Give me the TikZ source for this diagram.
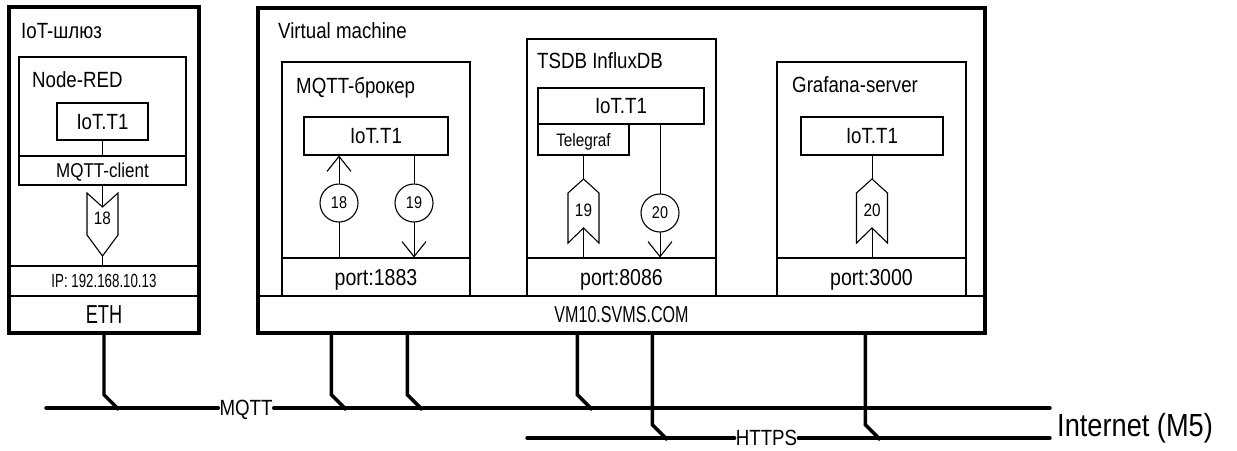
\documentclass[tikz,border=0pt]{standalone}
\usepackage{fontspec}
\setmainfont{Liberation Sans}[FakeStretch=0.85]
\newfontfamily\narrowfont{Liberation Sans}[FakeStretch=0.7]
\usetikzlibrary{arrows.meta, backgrounds}

\newcommand{\fsz}[1]{\fontsize{#1}{#1}\selectfont}

\begin{document}
\begin{tikzpicture}[x=1pt, y=-1pt,
    wire/.style={line width=1.1pt},
    box/.style={draw, line width=1.1pt, inner sep=0pt, text depth=0pt},
    outerbox/.style={draw, line width=3.4pt, inner sep=0pt},
    title/.style={anchor=base west, inner sep=0pt, font=\fsz{22}},
    num/.style={circle, draw, line width=1.1pt, fill=white, minimum size=38pt, inner sep=0pt, text depth=0pt, font=\fsz{17}},
    chev/.style={draw, line width=1.1pt, fill=white, line join=miter},
    chevnum/.style={inner sep=0pt, text depth=0pt, font=\fsz{18}},
    bus/.style={line width=3.4pt, line cap=round},
    drop/.style={line width=3.4pt},
    buslbl/.style={inner xsep=1pt, inner ysep=0pt, text depth=0pt, font=\fsz{22}},
    arr/.style={-{Straight Barb[length=15pt, width=24pt, line width=1.1pt]}}]
    \useasboundingbox (0,0) rectangle (1237,450);

    % IoT gateway
    \node[box, minimum width=167pt, minimum height=128pt] (gwred) at (102.5,121) {};
    \node[box, minimum width=167pt, minimum height=29pt, font=\fsz{20}] (gwclient) at (102.5,170.5) {MQTT-client};
    \node[box, minimum width=91pt, minimum height=37pt, font=\fsz{22}] (gwt1) at (102.5,121.5) {IoT.T1};
    \node[box, minimum width=190pt, minimum height=30pt, font=\narrowfont\fsz{19}] (gwip) at (104,281) {IP: 192.168.10.13};
    \node[box, minimum width=190pt, minimum height=37pt, font=\narrowfont\fsz{26}] (gweth) at (104,314.5) {ETH};
    \node[outerbox, minimum width=190pt, minimum height=326pt] (gw) at (104,170) {};
    \node[title] at (21,38) {IoT-шлюз};
    \node[title] at (32,87) {Node-RED};
    \draw[chev] (87,193) -- ++(15.5,14) -- ++(15.5,-14) -- ++(0,42) -- ++(-15.5,21) -- ++(-15.5,-21) -- cycle;
    \node[chevnum] (ch18) at (102.5,218) {18};

    % virtual machine
    \node[box, minimum width=727pt, minimum height=37pt, font=\narrowfont\fsz{23}] (vmhost) at (621.5,314.5) {VM10.SVMS.COM};
    \node[outerbox, minimum width=727pt, minimum height=325pt] (vm) at (621.5,170.5) {};
    \node[title] at (278,38) {Virtual machine};

    % broker
    \node[box, minimum width=188pt, minimum height=234pt] (broker) at (376,179) {};
    \node[box, minimum width=188pt, minimum height=38pt, font=\fsz{23}] (brokerport) at (376,277) {port:1883};
    \node[box, minimum width=144pt, minimum height=38pt, font=\fsz{22}] (brokert1) at (376,136) {IoT.T1};
    \node[title] at (296,93) {MQTT-брокер};
    \node[num] (n18) at (339,203) {18};
    \node[num] (n19) at (414,203) {19};

    % influxdb
    \node[box, minimum width=189pt, minimum height=257pt] (tsdb) at (621.5,167.5) {};
    \node[box, minimum width=189pt, minimum height=38pt, font=\fsz{23}] (tsdbport) at (621.5,277) {port:8086};
    \node[box, minimum width=166pt, minimum height=36pt, font=\fsz{22}] (tsdbt1) at (621,106) {IoT.T1};
    \node[box, minimum width=91pt, minimum height=31pt, font=\fsz{18}] (telegraf) at (583.5,139.5) {Telegraf};
    \node[title] at (537,68) {TSDB InfluxDB};
    \draw[chev] (583.5,179) -- ++(15.5,14) -- ++(0,50) -- ++(-15.5,-15) -- ++(-15.5,15) -- ++(0,-50) -- cycle;
    \node[chevnum] (ch19) at (583.5,210) {19};
    \node[num] (n20) at (660,213) {20};

    % grafana
    \node[box, minimum width=189pt, minimum height=234pt] (grafana) at (871.5,179) {};
    \node[box, minimum width=189pt, minimum height=38pt, font=\fsz{23}] (grafport) at (871.5,277) {port:3000};
    \node[box, minimum width=142pt, minimum height=38pt, font=\fsz{22}] (graft1) at (872,136) {IoT.T1};
    \node[title] at (792,92) {Grafana-server};
    \draw[chev] (872,179) -- ++(15.5,14) -- ++(0,50) -- ++(-15.5,-15) -- ++(-15.5,15) -- ++(0,-50) -- cycle;
    \node[chevnum] (ch20) at (872,210) {20};

    \begin{scope}[on background layer, wire]
        \draw (gwt1.south) -- (gwclient.north);
        \draw (gwclient.south) -- (gwclient.south |- gwip.north);
        \draw[arr] (n18 |- brokerport.north) -- (n18 |- brokert1.south);
        \draw[arr] (n19 |- brokert1.south) -- (n19 |- brokerport.north);
        \draw (ch19 |- tsdbport.north) -- (ch19 |- telegraf.south);
        \draw[arr] (n20 |- tsdbt1.south) -- (n20 |- tsdbport.north);
        \draw (ch20 |- grafport.north) -- (ch20 |- graft1.south);
    \end{scope}

    % buses
    \coordinate (mqttW) at (46,408);
    \coordinate (mqttE) at (1050,408);
    \coordinate (httpsW) at (527,438);
    \coordinate (httpsE) at (1050,438);
    \node[buslbl] (mqtt) at (246,408) {MQTT};
    \node[buslbl] (https) at (766.5,438) {HTTPS};
    \node[anchor=base west, inner sep=0pt, font=\fsz{32}] (inet) at (1057,436) {Internet (M5)};
    \draw[bus] (mqttW) -- (mqtt) (mqtt) -- (mqttE);
    \draw[bus] (httpsW) -- (https) (https) -- (httpsE);

    \draw[drop] (gw.south) -- ++(0,60) -- ++(15,15);
    \foreach \dx in {75,151,321}
        \draw[drop] ([xshift=\dx pt]vm.south west) -- ++(0,60) -- ++(15,15);
    \foreach \dx in {396,609}
        \draw[drop] ([xshift=\dx pt]vm.south west) -- ++(0,90) -- ++(15,15);
\end{tikzpicture}
\end{document}
